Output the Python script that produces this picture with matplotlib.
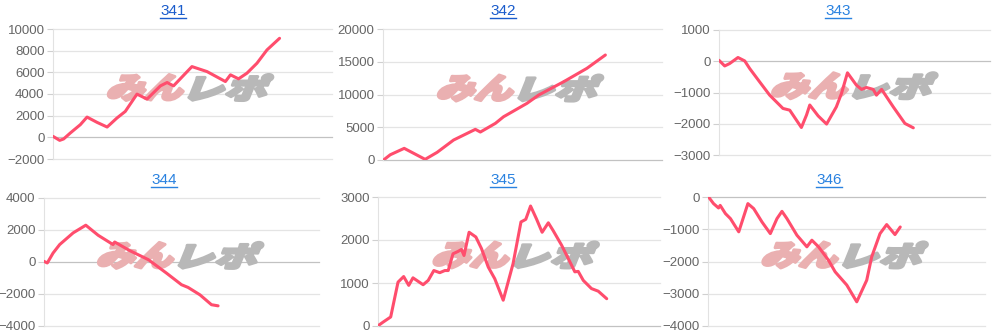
import matplotlib
matplotlib.use("Agg")
import matplotlib.pyplot as plt
from matplotlib.textpath import TextPath
from matplotlib.font_manager import FontProperties
from matplotlib.patches import PathPatch
from matplotlib.lines import Line2D
from matplotlib.transforms import Affine2D

# machine numbers shown as titles
titles = ["341", "342", "343", "344", "345", "346"]

# x = position along the run (0..100 of the axis), y = medal difference
x341 = [0, 2.4, 3.8, 6.2, 9.8, 12.2, 15.8, 19.4, 22.9, 25.9, 30.1, 33.7, 38.5,
        40.9, 43.2, 49.8, 55.2, 61.8, 63.6, 66.5, 69.5, 73.1, 76.7, 81.2]
y341 = [90, -280, -150, 400, 1170, 1870, 1380, 950, 1780, 2390, 3990, 3530, 4750,
        5060, 4750, 6530, 6070, 5150, 5770, 5400, 5920, 6840, 8070, 9140]

x342 = [0.2, 2.6, 7.6, 15.1, 19.4, 25.3, 33.1, 34.9, 40.3, 43.2, 51.6, 55.8,
        64.8, 73.1, 79.7]
y342 = [0, 800, 1780, 100, 1170, 3050, 4680, 4270, 5600, 6600, 8650, 9920,
        11960, 14000, 16030]

x343 = [0, 2.1, 3.9, 7.0, 9.5, 11.3, 15.0, 18.7, 23.6, 26.1, 30.4, 32.3, 33.5,
        36.6, 39.7, 43.3, 45.2, 47.4, 50.7, 52.6, 54.4, 56.9, 58.1, 60.0, 64.3,
        68.6, 71.7]
y343 = [30, -150, -75, 120, 10, -230, -660, -1085, -1510, -1565, -2120, -1720,
        -1400, -1750, -2010, -1460, -1030, -370, -765, -900, -840, -900, -1085,
        -900, -1460, -1990, -2130]

x344 = [0, 1.2, 3.3, 5.7, 10.6, 15.2, 19.7, 25.1, 25.7, 31.2, 37.9, 44.5, 50.0,
        52.4, 56.7, 60.9, 63.3]
y344 = [40, -60, 560, 1090, 1820, 2300, 1670, 1090, 1250, 710, 150, -690, -1420,
        -1590, -2050, -2670, -2740]

x345 = [0.2, 1.8, 4.5, 7.1, 9.1, 10.9, 12.4, 16.0, 17.8, 19.8, 21.9, 23.7, 24.9,
        26.6, 28.4, 29.6, 30.5, 32.3, 34.7, 36.7, 39.1, 41.4, 44.4, 47.9, 50.7,
        52.4, 54.1, 56.2, 58.2, 60.4, 62.1, 65.1, 69.8, 71.0, 72.8, 75.7, 78.1,
        81.1]
y345 = [15, 90, 210, 1020, 1150, 945, 1120, 960, 1060, 1290, 1240, 1290, 1290,
        1680, 1735, 1780, 1640, 2180, 2070, 1800, 1370, 1100, 600, 1450, 2420,
        2480, 2790, 2490, 2180, 2400, 2220, 1880, 1260, 1270, 1060, 870, 810, 635]

x346 = [0.2, 2.0, 3.8, 4.4, 6.3, 8.1, 11.1, 14.4, 16.5, 19.5, 22.5, 24.9, 26.7,
        28.5, 32.1, 35.7, 37.5, 39.9, 43.5, 45.9, 50.1, 53.7, 57.3, 59.1, 62.1,
        64.5, 67.5, 69.4]
y346 = [0, -205, -340, -260, -515, -670, -1080, -205, -360, -775, -1135, -670,
        -445, -670, -1185, -1545, -1340, -1545, -1960, -2320, -2730, -3250, -2580,
        -1855, -1135, -855, -1165, -930]

xs = [x341, x342, x343, x344, x345, x346]
ys = [y341, y342, y343, y344, y345, y346]
yticks = [range(-2000, 10001, 2000), range(0, 20001, 5000), range(-3000, 1001, 1000),
          range(-4000, 4001, 2000), range(0, 3001, 1000), range(-4000, 1, 1000)]

# axes boxes in pixels: left, right, top, bottom
W, H = 994, 336
boxes = [(53, 332, 29, 159), (383, 662, 29, 160), (719, 990, 30, 155),
         (44, 319, 198, 326), (378, 660, 197, 326), (708, 985, 197, 326)]
title_pos = [(173, 11), (503, 11), (838, 11), (164, 180), (503, 180), (829, 180)]
title_colors = ["#1a5ccc", "#1a5ccc", "#2a82e0", "#2a82e0", "#2a82e0", "#2a82e0"]

line_color = "#ff4d6d"
plt.rcParams["font.family"] = ["Liberation Sans", "DejaVu Sans"]

fig = plt.figure(figsize=(W / 100, H / 100), dpi=100)
logo_font = FontProperties(family="Noto Sans CJK JP", weight="heavy")


def draw_logo(ax):
    # faint "みんレポ" watermark, sheared to look italic
    x0, y0 = ax.transAxes.transform((0.21, 0.45))
    parts = [("みん", "#eab0b1", 0.0, 74), ("レポ", "#b8b8b8", 82, 76)]
    for txt, col, dx, wpx in parts:
        tp = TextPath((0, 0), txt, size=10, prop=logo_font)
        ext = tp.get_extents()
        sx = wpx / ext.width
        sy = 26 / ext.height
        tr = (Affine2D().translate(-ext.x0, -ext.y0).scale(sx, sy)
              .skew_deg(22, 0).translate(x0 + dx - 6, y0))
        p = PathPatch(tp, transform=tr, facecolor=col, edgecolor=col,
                      lw=2.2, joinstyle="round", zorder=1.5, clip_on=False)
        ax.add_artist(p)


axes = []
for i in range(6):
    l, r, t, b = boxes[i]
    ax = fig.add_axes([l / W, (H - b) / H, (r - l) / W, (b - t) / H])
    axes.append(ax)
    ticks = list(yticks[i])
    ax.set_xlim(0, 100)
    ax.set_ylim(ticks[0], ticks[-1])
    ax.set_yticks(ticks)
    ax.set_xticks([])
    for s in ["top", "right", "bottom"]:
        ax.spines[s].set_visible(False)
    ax.spines["left"].set_color("#e2e2e2")
    ax.spines["left"].set_linewidth(0.8)
    ax.tick_params(axis="y", length=4, width=0.8, color="#d0d0d0",
                   labelsize=9.5, labelcolor="#666666", pad=2)
    for tk in ticks:
        c = "#c2c2c2" if tk == 0 else "#e4e4e4"
        ax.axhline(tk, color=c, lw=0.9, zorder=0.5, clip_on=False)
    ax.plot(xs[i], ys[i], color=line_color, lw=2.2, zorder=3,
            solid_joinstyle="round", solid_capstyle="round")

for i, ax in enumerate(axes):
    draw_logo(ax)
    tx, ty = title_pos[i]
    fig.text(tx / W, (H - ty) / H, titles[i], ha="center", va="center",
             fontsize=11, color=title_colors[i])

# underline the titles (they are links)
fig.canvas.draw()
for t in fig.texts:
    bb = t.get_window_extent()
    yy = (bb.y0 + 0.5) / H
    fig.add_artist(Line2D([bb.x0 / W, bb.x1 / W], [yy, yy],
                          color=t.get_color(), lw=1.0))

fig.savefig("out.png", dpi=100)
